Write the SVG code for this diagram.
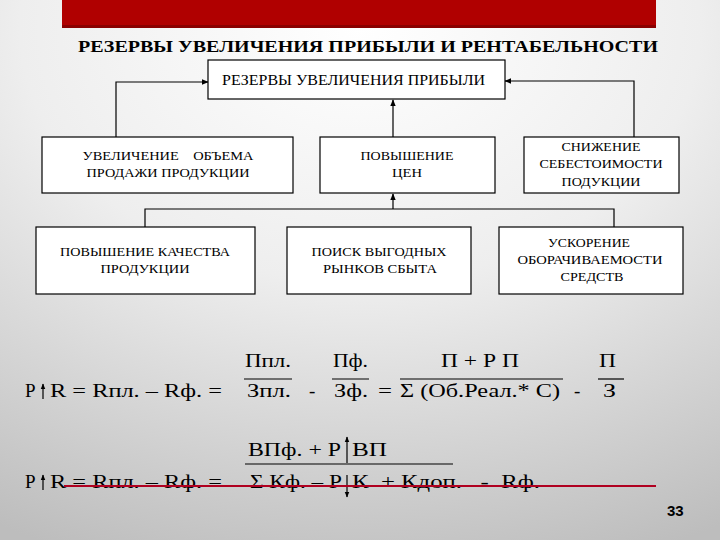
<svg xmlns="http://www.w3.org/2000/svg" width="720" height="540" viewBox="0 0 720 540">
<defs>
<radialGradient id="bg" cx="50%" cy="5%" r="105%">
<stop offset="0" stop-color="#ffffff"/>
<stop offset="0.45" stop-color="#eeeeee"/>
<stop offset="1" stop-color="#bdbdbd"/>
</radialGradient>
<marker id="ah" viewBox="0 0 10 10" refX="9" refY="5" markerWidth="7" markerHeight="7" orient="auto" markerUnits="userSpaceOnUse">
<path d="M0,1 L10,5 L0,9 Z" fill="#000"/>
</marker>
<marker id="ahs" viewBox="0 0 10 10" refX="9" refY="5" markerWidth="6" markerHeight="6" orient="auto" markerUnits="userSpaceOnUse">
<path d="M0,1 L10,5 L0,9 Z" fill="#000"/>
</marker>
</defs>
<style>
text{font-family:"Liberation Serif","Times New Roman","DejaVu Serif","Noto Serif",serif;fill:#000}
.box{fill:#ffffff;stroke:#000;stroke-width:1.2}
.bt{font-size:12.5px;text-anchor:middle}
.con{fill:none;stroke:#000;stroke-width:1.2}
.f{font-size:19px}
.fl{stroke:#000;stroke-width:1.2}
</style>
<rect x="0" y="0" width="720" height="540" fill="url(#bg)"/>
<rect x="62" y="0" width="594" height="28" fill="#b00000"/>
<rect x="62" y="25" width="594" height="3" fill="#8a0000"/>
<text x="78" y="52" font-weight="bold" font-size="17" textLength="580" lengthAdjust="spacingAndGlyphs">РЕЗЕРВЫ УВЕЛИЧЕНИЯ ПРИБЫЛИ И РЕНТАБЕЛЬНОСТИ</text>

<g id="connectors">
<path class="con" d="M116,137 V82 H208" marker-end="url(#ah)"/>
<path class="con" d="M634,137 V81 H505" marker-end="url(#ah)"/>
<path class="con" d="M393,137 V100" marker-end="url(#ah)"/>
<path class="con" d="M145,227 V209 H614 V227"/>
<path class="con" d="M393,209 V194" marker-end="url(#ah)"/>
</g>

<g id="n0">
<rect class="box" x="208" y="60" width="297" height="39"/>
<text x="222" y="85" font-size="14" textLength="263" lengthAdjust="spacingAndGlyphs">РЕЗЕРВЫ УВЕЛИЧЕНИЯ ПРИБЫЛИ</text>
</g>
<g id="n1">
<rect class="box" x="42" y="137" width="251" height="56"/>
<text class="bt" x="168" y="160" xml:space="preserve" textLength="171" lengthAdjust="spacingAndGlyphs">УВЕЛИЧЕНИЕ    ОБЪЕМА</text>
<text class="bt" x="168" y="177" textLength="163" lengthAdjust="spacingAndGlyphs">ПРОДАЖИ ПРОДУКЦИИ</text>
</g>
<g id="n2">
<rect class="box" x="320" y="137" width="175" height="56"/>
<text class="bt" x="407" y="160" textLength="93" lengthAdjust="spacingAndGlyphs">ПОВЫШЕНИЕ</text>
<text class="bt" x="407" y="177" textLength="30" lengthAdjust="spacingAndGlyphs">ЦЕН</text>
</g>
<g id="n3">
<rect class="box" x="524" y="137" width="155" height="56"/>
<text class="bt" x="601" y="151" textLength="79" lengthAdjust="spacingAndGlyphs">СНИЖЕНИЕ</text>
<text class="bt" x="601" y="168" textLength="123" lengthAdjust="spacingAndGlyphs">СЕБЕСТОИМОСТИ</text>
<text class="bt" x="601" y="186" textLength="79" lengthAdjust="spacingAndGlyphs">ПОДУКЦИИ</text>
</g>
<g id="n4">
<rect class="box" x="36" y="227" width="219" height="67"/>
<text class="bt" x="145" y="256" textLength="170" lengthAdjust="spacingAndGlyphs">ПОВЫШЕНИЕ КАЧЕСТВА</text>
<text class="bt" x="145" y="273" textLength="89" lengthAdjust="spacingAndGlyphs">ПРОДУКЦИИ</text>
</g>
<g id="n5">
<rect class="box" x="287" y="227" width="184" height="67"/>
<text class="bt" x="379" y="256" textLength="135" lengthAdjust="spacingAndGlyphs">ПОИСК ВЫГОДНЫХ</text>
<text class="bt" x="380" y="273" textLength="114" lengthAdjust="spacingAndGlyphs">РЫНКОВ СБЫТА</text>
</g>
<g id="n6">
<rect class="box" x="499" y="227" width="184" height="67"/>
<text class="bt" x="589" y="247" textLength="82" lengthAdjust="spacingAndGlyphs">УСКОРЕНИЕ</text>
<text class="bt" x="590" y="264" textLength="145" lengthAdjust="spacingAndGlyphs">ОБОРАЧИВАЕМОСТИ</text>
<text class="bt" x="592" y="281" textLength="63" lengthAdjust="spacingAndGlyphs">СРЕДСТВ</text>
</g>

<g id="formula1">
<text class="f" x="25" y="397">Р</text>
<line class="fl" x1="43" y1="399" x2="43" y2="384" marker-end="url(#ahs)"/>
<text class="f" x="50" y="397" textLength="172" lengthAdjust="spacingAndGlyphs">R = Rпл. – Rф. =</text>
<text class="f" x="245" y="367" textLength="46" lengthAdjust="spacingAndGlyphs">Ппл.</text>
<line class="fl" x1="244" y1="379" x2="292" y2="379"/>
<text class="f" x="247" y="397" textLength="44" lengthAdjust="spacingAndGlyphs">Зпл.</text>
<text class="f" x="309" y="397">-</text>
<text class="f" x="333" y="367" textLength="35" lengthAdjust="spacingAndGlyphs">Пф.</text>
<line class="fl" x1="332" y1="379" x2="369" y2="379"/>
<text class="f" x="334" y="397" textLength="34" lengthAdjust="spacingAndGlyphs">Зф.</text>
<text class="f" x="378" y="397" textLength="14" lengthAdjust="spacingAndGlyphs">=</text>
<text class="f" x="441" y="367" xml:space="preserve" textLength="78" lengthAdjust="spacingAndGlyphs">П + Р П</text>
<line class="fl" x1="400" y1="379" x2="563" y2="379"/>
<text class="f" x="400" y="397" textLength="160" lengthAdjust="spacingAndGlyphs">Σ (Об.Реал.* С)</text>
<text class="f" x="574" y="397">-</text>
<text class="f" x="599" y="367" textLength="17" lengthAdjust="spacingAndGlyphs">П</text>
<line class="fl" x1="598" y1="379" x2="624" y2="379"/>
<text class="f" x="603" y="397" textLength="13" lengthAdjust="spacingAndGlyphs">З</text>
</g>

<g id="formula2">
<text class="f" x="25" y="488">Р</text>
<line class="fl" x1="43" y1="490" x2="43" y2="475" marker-end="url(#ahs)"/>
<text class="f" x="50" y="488" textLength="172" lengthAdjust="spacingAndGlyphs">R = Rпл. – Rф. =</text>
<text class="f" x="248" y="456" textLength="93" lengthAdjust="spacingAndGlyphs">ВПф. + Р</text>
<line class="fl" x1="347" y1="463" x2="347" y2="437" marker-end="url(#ahs)"/>
<text class="f" x="352" y="456" textLength="35" lengthAdjust="spacingAndGlyphs">ВП</text>
<line class="fl" x1="245" y1="464" x2="453" y2="464"/>
<text class="f" x="250" y="488" textLength="92" lengthAdjust="spacingAndGlyphs">Σ Кф. – Р</text>
<line class="fl" x1="347" y1="475" x2="347" y2="497" marker-end="url(#ahs)"/>
<text class="f" x="352" y="488" xml:space="preserve" textLength="188" lengthAdjust="spacingAndGlyphs">К  + Кдоп.   -  Rф.</text>
<line x1="64" y1="486" x2="656" y2="486" stroke="#b00020" stroke-width="2"/>
</g>
<text x="667" y="516" style="font-family:'Liberation Sans','DejaVu Sans',sans-serif" font-weight="bold" font-size="15" fill="#111">33</text>
</svg>
